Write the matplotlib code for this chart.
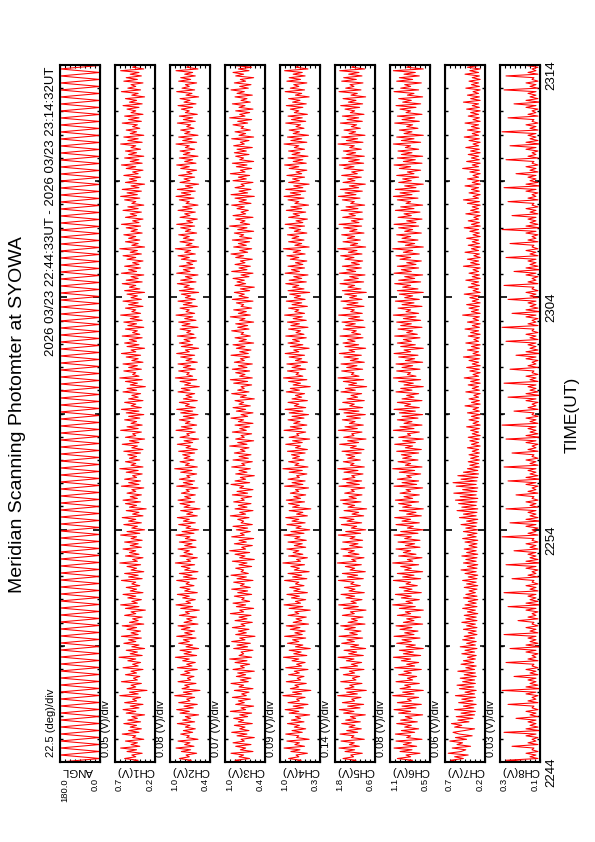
import numpy as np
import matplotlib.pyplot as plt
from matplotlib.ticker import MultipleLocator, FixedLocator

plt.rcParams['font.family'] = ['Liberation Sans', 'DejaVu Sans']

#---- data (time runs 22:44:33 -> 23:14:32 UT, minutes from start)

title = "Meridian Scanning Photomter at SYOWA"
header = "2026 03/23 22:44:33UT - 2026 03/23 23:14:32UT"
time_ticks = [0, 10, 20, 30]
time_labels = ["2244", "2254", "2304", "2314"]
t_end = 29.98

names = ["ANGL", "CH1(V)", "CH2(V)", "CH3(V)", "CH4(V)", "CH5(V)", "CH6(V)", "CH7(V)", "CH8(V)"]
divs = ["22.5 (deg)/div", "0.05 (V)/div", "0.08 (V)/div", "0.07 (V)/div", "0.09 (V)/div",
        "0.14 (V)/div", "0.08 (V)/div", "0.06 (V)/div", "0.03 (V)/div"]
hi_vals = [180.0, 0.7, 1.0, 1.0, 1.0, 1.8, 1.1, 0.7, 0.3]
lo_vals = [0.0, 0.2, 0.4, 0.4, 0.3, 0.6, 0.5, 0.2, 0.1]
units = [1.0, 0.01, 0.01, 0.01, 0.01, 0.01, 0.01, 0.01, 0.01]   # ANGL in deg, channels in 0.01 V

angl = [180, 0, 180, 0, 180, 0, 180, 0, 180, 0, 180, 0, 180, 0, 180, 0, 180, 0, 180, 0,
        180, 0, 180, 0, 180, 0, 180, 0, 180, 0, 180, 0, 180, 0, 180, 0, 180, 0, 180, 0,
        180, 0, 180, 0, 180, 0, 180, 0, 180, 0, 180, 0, 180, 0, 180, 0, 180, 0, 180, 0,
        180, 0, 180, 0, 180, 0, 180, 0, 180, 0, 180, 0, 180, 0, 180, 0, 180, 0, 180, 0,
        180, 0, 180, 0, 180, 0, 180, 0, 180, 0, 180, 0, 180, 0, 180, 0, 180, 0, 180, 0,
        180, 0, 180, 0, 180, 0, 180, 0, 180, 0, 180, 0, 180, 0, 180, 0, 180, 0, 180, 0,
        180, 0, 180, 0, 180, 0, 180, 0, 180, 0, 180, 0, 180, 0, 180, 0, 180, 0, 180, 0,
        180, 0, 180, 0, 180, 0, 180, 0, 180, 0, 180, 0, 180, 0, 180, 0, 180, 0, 180, 0,
        180, 0, 180, 0, 180, 0, 180, 0, 180, 0, 180, 0, 180, 0, 180, 0, 180, 0, 180, 0,
        180, 0, 180, 0, 180, 0, 180, 0, 180, 0, 180, 0, 180, 0, 180, 0, 180, 0, 180, 0]

ch1 = [52,41,58,44,49,36,55,43,63,39,50,42,57,34,48,44,61,40,53,37,51,43,59,38,54,
       42,49,33,56,44,60,40,51,35,58,43,48,38,64,41,52,30,55,44,50,37,62,42,47,39,
       57,43,50,35,60,41,48,38,54,44,65,36,51,42,56,33,49,40,59,44,53,37,62,41,50,
       38,55,43,61,34,52,41,48,36,58,44,50,32,57,40,63,42,49,37,54,44,60,35,51,43,
       56,39,49,44,62,36,53,41,58,34,50,43,55,38,64,42,48,35,57,40,52,44,60,37,51,
       41,58,36,50,43,63,39,55,33,49,42,59,37,53,44,61,35,48,40,56,31,52,43,57,38,
       60,42,51,37,55,44,49,34,62,40,53,38,58,43,48,36,56,41,64,35,50,44,57,39,52,
       43,54,38,59,35,49,42,61,40,52,33,57,44,48,37,63,41,55,36,50,43,58,39,53,34,
       56,40,62,37,50,44,58,35,53,41,49,38,60,43,55,32,51,42,57,36,64,40,48,44,59,
       37,53,42,60,35,49,41,56,38,62,44,50,33,55,40,58,43,52,36,61,39,48,42,57,34,
       54,43,59,36,51,40,63,38,49,44,57,35,53,41,60,37,50,42,55,33,58,39,52,44,61,
       36,56,41,50,34,62,43,53,38,58,40,48,35,55,44,60,37,51,42,64,33,49,41,57,39,
       53,44,59,36,50,42,56,38,62,40,48,35,57,43,51,37,60,41,54,34,49,44,58,39,63,
       42,55,37,61,40,50,33,57,43,52,38,59,41,48,35,56,44,62,36,51,40,58,34,53,43,
       57,38,50,44,63,36,54,41,59,34,51,43,56,39,48,42,61,37,53,40,58,35,50,44,55,
       40,60,36,52,43,57,33,49,41,62,38,54,44,50,35,59,42,56,37,51,40,63,34,48,43]

ch2 = [79,68,86,71,76,60,83,69,91,64,78,70,88,58,75,71,84,66,80,62,77,70,89,63,81,
       69,77,57,85,71,90,65,79,59,87,70,75,63,93,67,80,55,82,71,78,61,88,69,74,64,
       84,70,78,59,89,67,75,62,81,71,92,60,79,68,85,57,76,66,87,71,80,61,90,67,78,
       63,83,70,88,58,79,67,75,60,86,71,77,56,84,66,91,69,76,62,81,71,89,59,78,70,
       85,64,76,71,90,60,80,67,86,58,78,70,83,63,92,69,75,59,85,66,79,71,88,61,78,
       67,86,61,77,70,91,64,82,57,76,69,87,62,80,71,89,59,75,66,84,55,79,70,85,63,
       88,69,78,62,83,71,76,58,90,66,80,63,86,70,75,60,84,67,93,59,77,71,85,64,79,
       70,81,63,87,59,76,69,89,66,79,57,85,71,75,62,91,67,83,60,77,70,86,64,80,58,
       84,66,90,62,77,71,86,59,80,67,76,63,88,70,83,56,78,69,85,60,92,66,75,71,87,
       62,80,69,88,59,76,67,84,63,90,71,77,57,83,66,86,70,79,61,89,64,75,69,85,58,
       82,70,87,61,78,66,91,63,76,71,85,59,80,67,88,62,77,69,83,57,86,64,79,71,89,
       61,84,67,77,58,90,70,80,63,86,66,75,60,83,71,88,62,78,69,92,57,76,67,85,64,
       80,71,87,60,77,69,84,63,90,66,75,59,85,70,78,62,88,67,81,58,76,71,86,64,91,
       69,83,62,89,66,77,57,85,70,79,63,87,67,75,60,84,71,90,61,78,66,86,58,80,70,
       85,63,77,71,91,60,81,67,87,58,78,70,84,64,75,69,89,62,80,66,86,59,77,71,83,
       66,88,61,79,70,85,57,76,67,90,63,82,71,77,60,87,69,84,62,78,66,91,58,75,70]

ch3 = [70,85,63,79,72,91,58,77,69,84,61,88,71,76,56,82,67,90,64,78,70,86,59,80,72,
       87,66,78,60,92,69,76,57,84,71,80,62,89,68,75,64,86,58,79,72,91,65,77,61,83,
       69,81,56,88,71,77,63,85,67,93,60,79,72,76,58,87,66,82,62,90,70,78,55,84,68,
       80,64,89,70,76,59,85,67,79,61,92,72,78,57,83,69,88,63,75,71,86,60,81,66,90,
       62,77,71,87,58,82,68,91,65,76,72,84,60,79,67,89,56,78,70,85,63,93,69,75,59,
       86,68,79,57,90,71,77,62,83,66,88,59,76,72,81,64,92,69,78,58,85,67,80,61,87,
       71,76,60,89,66,82,58,78,72,91,63,85,69,77,56,84,67,79,62,90,70,75,59,88,65,
       79,61,86,70,77,64,93,67,81,57,84,71,76,60,89,68,78,63,85,58,80,72,91,66,76,
       58,83,69,88,62,79,72,85,56,77,68,90,64,81,71,76,60,87,66,92,59,78,70,84,63,
       89,67,80,59,86,71,77,63,91,65,78,61,83,70,88,57,79,68,85,62,76,72,90,64,81,
       66,84,57,78,70,92,62,80,68,87,60,76,72,83,58,89,65,79,71,86,63,77,56,85,69,
       82,71,88,64,76,58,90,67,79,62,85,70,77,59,84,72,91,66,78,60,87,68,80,63,89,
       60,78,72,86,57,81,67,93,63,77,70,84,58,88,69,76,65,82,71,90,61,79,68,85,56,
       91,66,79,61,85,71,76,58,88,68,80,63,92,70,77,60,83,67,89,57,78,72,84,64,86,
       68,82,59,87,71,77,64,90,57,79,69,85,62,76,72,88,66,81,60,93,70,78,63,84,58,
       79,70,89,62,76,67,85,59,82,71,91,65,78,61,86,69,77,57,84,72,88,64,80,60,87]

ch4 = [76,63,85,67,72,52,81,65,93,57,74,66,88,49,71,67,90,61,79,55,75,66,87,58,80,
       64,73,48,84,67,91,59,77,51,86,66,71,56,95,62,78,46,82,67,74,54,89,64,70,58,
       85,66,75,51,90,62,71,56,79,67,94,53,76,63,84,47,73,60,87,67,78,55,92,61,74,
       56,82,65,89,50,77,62,72,54,86,67,74,47,84,60,93,64,73,55,80,66,88,52,76,65,
       83,58,73,67,92,53,78,62,86,49,75,66,81,57,95,64,71,52,85,60,77,67,88,55,75,
       61,86,54,74,65,93,58,81,48,72,63,88,56,79,67,90,52,71,60,84,46,78,66,85,57,
       89,64,76,55,82,67,73,50,92,60,79,56,86,66,71,53,84,61,95,51,74,67,85,58,78,
       66,80,56,87,52,73,64,90,61,78,48,84,67,71,55,93,62,82,53,76,65,86,58,79,50,
       84,60,91,55,75,67,86,52,79,62,73,57,89,66,82,47,77,64,85,53,94,60,72,67,87,
       55,79,64,88,52,73,62,84,57,91,67,76,49,82,60,86,66,78,54,90,58,72,64,85,51,
       81,66,87,54,77,61,92,57,74,67,85,52,79,62,89,56,75,64,83,48,86,58,78,67,90,
       54,84,62,76,51,91,66,80,57,86,60,73,53,82,67,88,56,77,64,94,49,74,62,85,58,
       79,67,87,53,75,64,84,57,91,60,72,52,85,66,77,55,89,62,81,50,74,67,86,58,93,
       64,82,55,90,60,76,49,85,66,78,57,88,62,72,53,84,67,92,54,77,60,86,51,79,65,
       85,57,75,67,93,53,81,62,87,50,77,66,84,58,72,64,90,55,80,61,86,52,75,67,82,
       60,89,54,78,65,85,49,73,62,91,57,82,67,76,53,88,64,84,56,77,61,92,51,72,66]

ch5 = [140,117,156,124,133,98,150,121,168,107,137,122,162,92,131,123,165,112,145,101,138,120,160,104,148,
       118,134,89,154,123,167,105,142,94,158,121,130,102,172,113,145,86,150,123,136,99,163,117,128,106,
       155,121,137,93,165,112,131,100,146,123,171,95,139,115,153,88,133,109,160,122,144,97,168,113,136,
       102,151,119,163,90,141,113,131,96,158,122,134,87,154,110,169,116,132,99,147,121,162,92,138,120,
       152,104,133,123,170,95,143,112,158,89,135,121,149,101,173,117,130,93,156,108,140,122,162,98,136,
       111,157,97,135,120,170,103,148,88,131,115,161,100,144,123,166,94,129,109,153,85,141,121,156,102,
       164,116,138,99,151,122,132,91,168,107,145,100,157,120,130,96,153,111,172,92,134,123,155,104,142,
       121,147,101,159,93,134,116,166,109,142,87,154,123,130,99,170,113,150,95,137,120,158,104,145,89,
       153,108,168,97,136,122,157,92,144,112,132,100,162,119,149,85,139,115,155,94,171,108,131,123,160,
       97,145,114,162,92,134,110,153,101,167,121,138,88,150,109,156,120,142,96,165,103,130,116,155,90,
       148,119,159,95,139,106,169,98,133,122,156,93,144,111,162,99,136,115,151,86,158,102,141,121,165,
       94,153,110,136,90,167,118,145,101,158,107,131,97,150,123,163,99,140,114,172,88,134,112,156,104,
       143,121,160,93,136,114,154,100,168,108,131,96,157,119,138,98,162,111,147,91,133,122,158,105,170,
       117,150,98,164,109,137,89,156,120,142,101,160,113,130,95,153,123,167,94,139,107,159,92,145,118,
       155,101,136,122,171,96,146,112,160,90,138,118,153,104,131,115,164,98,144,109,158,93,134,121,150,
       106,163,97,140,117,156,88,132,113,168,102,148,123,135,96,160,116,154,99,139,108,166,91,130,119]

ch6 = [89,76,99,79,86,65,95,77,104,70,90,78,101,62,85,79,102,73,93,67,88,78,100,69,94,
       77,87,61,97,79,104,71,92,63,99,78,84,67,106,74,91,60,95,79,88,66,101,76,84,70,
       97,78,89,63,103,73,85,67,93,79,105,64,90,75,96,60,86,72,100,78,92,65,104,74,88,
       68,95,77,101,61,90,74,85,64,99,79,87,60,96,72,106,76,86,66,93,78,102,63,89,77,
       96,69,86,79,105,64,91,74,99,61,88,78,94,67,106,76,84,62,97,71,90,79,101,65,87,
       73,98,65,88,78,104,68,94,60,84,75,101,66,92,79,103,63,85,71,96,60,91,78,97,67,
       102,76,89,66,95,79,86,61,104,70,92,67,99,78,85,64,96,73,106,62,87,79,98,68,91,
       78,93,67,100,63,87,76,103,72,91,60,97,79,84,66,105,74,95,62,89,77,99,68,92,61,
       96,72,104,66,88,79,99,62,92,74,85,67,101,77,94,60,89,75,97,64,105,71,84,79,100,
       65,92,76,101,61,87,73,97,68,104,79,89,60,94,72,99,78,90,65,103,69,85,76,98,62,
       94,78,100,64,90,71,105,67,86,79,98,62,92,74,102,66,88,76,96,60,99,68,91,79,103,
       64,97,73,88,61,104,78,93,67,99,71,85,63,95,79,101,66,90,76,106,60,87,73,98,68,
       92,79,100,63,88,76,97,67,104,71,85,62,98,78,89,65,102,74,94,61,86,79,99,68,105,
       77,95,66,102,71,88,60,97,78,91,67,100,74,84,64,96,79,104,62,90,72,99,61,93,77,
       98,67,87,79,105,64,93,74,100,60,89,77,96,68,85,76,103,66,92,73,99,62,86,79,95,
       71,101,64,91,78,97,61,84,74,104,67,94,79,88,63,100,76,96,66,89,72,105,60,85,78]

ch7 = [52,63,47,58,41,66,50,44,61,38,55,48,64,43,57,36,52,60,46,33,58,49,62,40,54,
       35,56,33,50,32,58,34,47,31,53,35,49,32,57,33,45,31,52,34,55,32,48,33,51,31,
       46,32,54,33,44,31,50,34,47,32,42,31,49,33,45,30,51,32,43,31,48,33,46,30,41,
       31,47,30,43,32,49,30,44,31,46,29,42,32,48,30,45,31,41,29,47,30,44,32,40,30,
       46,29,43,31,48,30,41,29,45,31,50,30,42,29,47,31,44,30,49,29,43,31,46,30,40,
       30,45,29,48,31,42,30,47,29,44,31,50,30,43,29,52,31,47,30,55,29,49,31,53,30,
       57,29,51,31,59,30,48,29,56,31,60,30,50,29,54,28,47,29,42,27,39,28,41,27,38,
       28,40,27,36,28,42,26,37,28,39,27,41,26,36,28,38,27,43,26,35,28,40,27,37,26,
       42,27,35,28,45,26,37,27,40,28,34,26,44,27,36,28,41,26,38,27,46,28,35,26,39,
       27,43,26,36,28,40,27,47,26,35,28,42,27,37,26,44,28,34,27,41,26,38,28,45,27,
       36,26,42,28,35,27,48,26,37,28,40,27,43,26,36,28,39,27,46,26,35,28,41,27,37,
       28,44,26,36,27,40,28,35,26,47,27,38,28,42,26,34,27,45,28,37,26,41,27,36,28,
       43,26,35,27,39,28,46,26,37,27,41,28,34,26,44,27,38,28,36,26,42,27,47,28,35,
       26,40,27,37,28,45,26,36,27,42,28,35,26,39,27,48,28,36,26,43,27,37,28,41,26,
       38,27,44,28,35,26,40,27,46,28,36,26,42,27,37,28,45,26,35,27,41,28,38,26,43,
       27,36,28,47,26,38,27,42,28,35,26,44,27,37,28,40,26,36,27,45,28,39,26,42,27]

ch8 = [12,27,11,15,12,17,11,14, 13,24,11,16,12,14,11,17, 12,28,10,17,11,15,12,16, 12,22,11,15,12,17,11,14, 13,26,11,16,12,14,11,17,
       12,29,10,17,11,15,12,16, 12,23,11,15,12,17,11,14, 13,27,11,16,12,14,11,17, 12,25,10,17,11,15,12,16, 12,28,11,15,12,17,11,14,
       13,21,11,16,12,14,11,17, 12,26,10,17,11,15,12,16, 12,28,11,15,12,17,11,14, 13,24,11,16,12,14,11,17, 12,27,10,17,11,15,12,16,
       12,23,11,15,12,17,11,14, 13,29,11,16,12,14,11,17, 12,25,10,17,11,15,12,16, 12,27,11,15,12,17,11,14, 13,22,11,16,12,14,11,17,
       12,26,10,17,11,15,12,16, 12,28,11,15,12,17,11,14, 13,24,11,16,12,14,11,17, 12,27,10,17,11,15,12,16, 12,29,11,15,12,17,11,14,
       13,23,11,16,12,14,11,17, 12,26,10,17,11,15,12,16, 12,28,11,15,12,17,11,14, 13,25,11,16,12,14,11,17, 12,22,10,17,11,15,12,16,
       12,27,11,15,12,17,11,14, 13,29,11,16,12,14,11,17, 12,24,10,17,11,15,12,16, 12,26,11,15,12,17,11,14, 13,28,11,16,12,14,11,17,
       12,23,10,17,11,15,12,16, 12,27,11,15,12,17,11,14, 13,25,11,16,12,14,11,17, 12,29,10,17,11,15,12,16, 12,24,11,15,12,17,11,14,
       13,26,11,16,12,14,11,17, 12,28,10,17,11,15,12,16, 12,22,11,15,12,17,11,14, 13,27,11,16,12,14,11,17, 12,25,10,17,11,15,12,16,
       12,29,11,15,12,17,11,14, 13,26,11,16,12,14,11,17, 12,23,10,17,11,15,12,16, 12,28,11,15,12,17,11,14, 13,27,11,16,12,14,11,17]

series = [angl, ch1, ch2, ch3, ch4, ch5, ch6, ch7, ch8]

#---- figure (page is the landscape plot turned on its side)

W, H = 595, 842
fig = plt.figure(figsize=(W / 100, H / 100), dpi=100)

top_px, bot_px = 65, 762
for k in range(len(series)):
    left = 60 + 55 * k
    ax = fig.add_axes([left / W, 1 - bot_px / H, 40 / W, (bot_px - top_px) / H])
    vals = np.array(series[k], dtype=float) * units[k]
    t = np.linspace(0, t_end, len(vals))
    ax.plot(vals, t, color='red', lw=0.75)
    ax.set_xlim(hi_vals[k], lo_vals[k])
    ax.set_ylim(0, 30)

    # value axis: 8 divisions, ticks on page top & bottom
    ax.xaxis.set_major_locator(FixedLocator(np.linspace(lo_vals[k], hi_vals[k], 9)))
    ax.tick_params(axis='x', direction='in', top=True, bottom=True, length=2.2, width=0.8,
                   labelbottom=False, labeltop=False)
    # time axis: 1 min minor, 5 min medium, 10 min major
    ax.yaxis.set_major_locator(FixedLocator(time_ticks))
    ax.yaxis.set_minor_locator(MultipleLocator(1))
    ax.tick_params(axis='y', which='major', direction='in', left=True, right=True, length=5, width=1.2)
    ax.tick_params(axis='y', which='minor', direction='in', left=True, right=True, length=2, width=1.0)
    ax.tick_params(axis='y', labelleft=False, labelright=False)
    for side in ('left', 'right'):
        sec = ax.secondary_yaxis(side)
        sec.set_yticks([5, 15, 25])
        sec.tick_params(direction='in', length=3.3, width=1.1, labelleft=False, labelright=False)
    for sp in ax.spines.values():
        sp.set_linewidth(1.5)

    if k == len(series) - 1:
        ax.set_yticks(time_ticks, time_labels)
        ax.tick_params(axis='y', labelright=True, labelrotation=90, labelsize=9.5, pad=4)

    fmt = "%.1f"
    ax.annotate(fmt % hi_vals[k], xy=(0, 0), xycoords='axes fraction', xytext=(0, -11.5),
                textcoords='offset points', rotation=90, ha='left', va='top', fontsize=6.8)
    ax.annotate(fmt % lo_vals[k], xy=(1, 0), xycoords='axes fraction', xytext=(0, -11.5),
                textcoords='offset points', rotation=90, ha='right', va='top', fontsize=6.8)
    ax.annotate(names[k], xy=(0, 0), xycoords='axes fraction', xytext=(1.2, -3),
                textcoords='offset points', rotation=180, ha='left', va='top', fontsize=8.2)
    ax.annotate(divs[k], xy=(0, 0), xycoords='axes fraction', xytext=(-6.5, 3.6),
                textcoords='offset points', rotation=90, ha='center', va='bottom', fontsize=8)

fig.text(51 / W, 1 - 67 / H, header, rotation=90, ha='center', va='top', fontsize=9.5)
fig.text(18 / W, 1 - 415 / H, title, rotation=90, ha='center', va='center', fontsize=14)
fig.text(572 / W, 1 - 415 / H, "TIME(UT)", rotation=90, ha='center', va='center', fontsize=12.5)

fig.savefig("out.png", dpi=100)
